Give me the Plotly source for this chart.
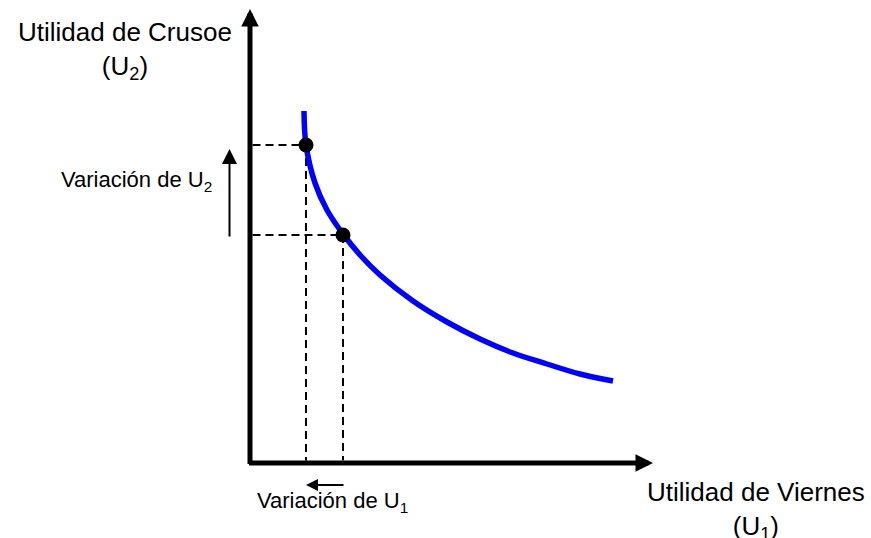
import plotly.graph_objects as go

# Indifference / utility-possibility curve (U1 = Viernes, U2 = Crusoe), arbitrary units
curve_u1 = [5.4, 5.6, 6.5, 7.7, 9.3, 11.1, 13.0, 16.3, 19.7, 23.0, 26.3, 29.7, 33.0, 36.3]
curve_u2 = [35.2, 31.8, 28.0, 25.3, 22.9, 20.7, 18.8, 16.2, 14.1, 12.4, 11.0, 9.9, 8.9, 8.2]

# Two highlighted allocations
point_u1 = [5.6, 9.3]
point_u2 = [31.8, 22.8]

axis_x_max = 40.3
axis_y_max = 45.4

title_y = "Utilidad de Crusoe<br>(U<sub>2</sub>)"
title_x = "Utilidad de Viernes<br>(U<sub>1</sub>)"
label_dy = "Variación de U<sub>2</sub>"
label_dx = "Variación de U<sub>1</sub>"

FONT = "Arial, Liberation Sans, Helvetica, sans-serif"

fig = go.Figure()

# dashed guide lines
for px, py in zip(point_u1, point_u2):
    fig.add_trace(go.Scatter(x=[0.25, px], y=[py, py], mode="lines",
                             line=dict(color="black", width=2, dash="8px,5px"),
                             hoverinfo="skip", showlegend=False))
    fig.add_trace(go.Scatter(x=[px, px], y=[py, 0.25], mode="lines",
                             line=dict(color="black", width=2, dash="8px,5px"),
                             hoverinfo="skip", showlegend=False))

# curve
fig.add_trace(go.Scatter(x=curve_u1, y=curve_u2, mode="lines",
                         line=dict(color="#0000FF", width=5.5, shape="spline", smoothing=1.0),
                         hoverinfo="skip", showlegend=False))

# points
fig.add_trace(go.Scatter(x=point_u1, y=point_u2, mode="markers",
                         marker=dict(color="black", size=15),
                         hoverinfo="skip", showlegend=False))

annotations = []
# axes as arrows
annotations.append(dict(x=0, y=axis_y_max, ax=0, ay=-0.25, xref="x", yref="y", axref="x", ayref="y",
                        showarrow=True, arrowhead=2, arrowsize=0.7, arrowwidth=5,
                        arrowcolor="black", text="", standoff=0, startstandoff=0))
annotations.append(dict(x=axis_x_max, y=0, ax=-0.25, ay=0, xref="x", yref="y", axref="x", ayref="y",
                        showarrow=True, arrowhead=2, arrowsize=0.7, arrowwidth=5,
                        arrowcolor="black", text="", standoff=0, startstandoff=0))
# change arrows
annotations.append(dict(x=-2.05, y=31.4, ax=-2.05, ay=22.5, xref="x", yref="y", axref="x", ayref="y",
                        showarrow=True, arrowhead=2, arrowsize=1.5, arrowwidth=2,
                        arrowcolor="black", text="", standoff=0))
annotations.append(dict(x=5.6, y=-2.2, ax=9.5, ay=-2.2, xref="x", yref="y", axref="x", ayref="y",
                        showarrow=True, arrowhead=2, arrowsize=1.2, arrowwidth=2,
                        arrowcolor="black", text="", standoff=0))
# texts
annotations.append(dict(x=-12.55, y=41.3, xref="x", yref="y", text=title_y, showarrow=False,
                        font=dict(family=FONT, size=26, color="black"), align="center",
                        xanchor="center", yanchor="middle"))
annotations.append(dict(x=50.6, y=-4.7, xref="x", yref="y", text=title_x, showarrow=False,
                        font=dict(family=FONT, size=26, color="black"), align="center",
                        xanchor="center", yanchor="middle"))
annotations.append(dict(x=-11.35, y=28.25, xref="x", yref="y", text=label_dy, showarrow=False,
                        font=dict(family=FONT, size=22, color="black"),
                        xanchor="center", yanchor="middle"))
annotations.append(dict(x=8.2, y=-3.9, xref="x", yref="y", text=label_dx, showarrow=False,
                        font=dict(family=FONT, size=22, color="black"),
                        xanchor="center", yanchor="middle"))

fig.update_layout(
    width=871, height=538,
    margin=dict(l=0, r=0, t=0, b=0),
    paper_bgcolor="white", plot_bgcolor="white",
    annotations=annotations,
    xaxis=dict(range=[-25, 62.1], visible=False, fixedrange=True),
    yaxis=dict(range=[-7.5, 46.3], visible=False, fixedrange=True),
)

fig.write_html("out.html", config={"displayModeBar": False},
               post_script="document.body.style.margin='0';document.body.style.overflow='hidden';")
